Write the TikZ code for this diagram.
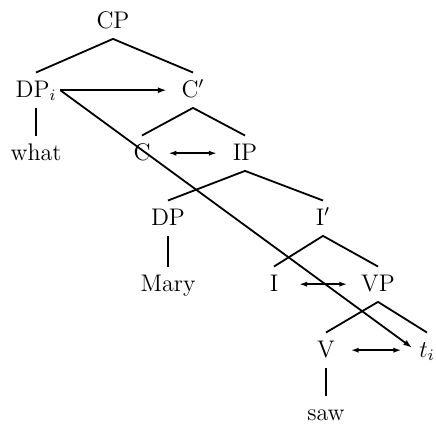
\documentclass[tikz,border=0pt]{standalone}
\usetikzlibrary{arrows.meta}
\begin{document}
\begin{tikzpicture}[x=.5pt,y=-.5pt,line width=.9pt,
    cat/.style={font=\large,anchor=base,text height=8.3pt,text depth=1.5pt,
      inner xsep=1.5pt,inner ysep=3.5pt},
    mv/.style={-{Latex[length=4.5pt,width=3pt]}},
    link/.style={{Latex[length=4pt,width=2.6pt]}-{Latex[length=4pt,width=2.6pt]},
      shorten <=7pt,shorten >=6pt}]
   \useasboundingbox (0,0) rectangle (436,425);

   % the tree
   \node[cat] (cp)   at (113,28)  {CP};
   \node[cat] (dpi)  at (36,97)   {DP$_i$};
   \node[cat] (cbar) at (193,97)  {C$'$};
   \node[cat] (what) at (36,160)  {what};
   \node[cat] (c)    at (142,160) {C};
   \node[cat] (ip)   at (245,160) {IP};
   \node[cat] (dp)   at (168,225) {DP};
   \node[cat] (ibar) at (323,225) {I$'$};
   \node[cat] (mary) at (168,291) {Mary};
   \node[cat] (i)    at (274,291) {I};
   \node[cat] (vp)   at (378,291) {VP};
   \node[cat] (v)    at (326,357) {V};
   \node[cat] (ti)   at (427,357) {$t_i$};
   \node[cat] (saw)  at (326,420) {saw};

   \draw (dpi.north) -- (cp.south) -- (cbar.north);
   \draw (c.north) -- (cbar.south) -- (ip.north);
   \draw (dp.north) -- (ip.south) -- (ibar.north);
   \draw (i.north) -- (ibar.south) -- (vp.north);
   \draw (v.north) -- (vp.south) -- (ti.north);

   \draw (dpi) -- (what);
   \draw (dp) -- (mary);
   \draw (v) -- (saw);

   % movement and links
   \draw[mv,shorten >=5.5pt] (dpi.east) -- (cbar.west);
   \draw[mv,shorten >=2pt] (dpi.east) -- (ti.west);
   \draw[link] (c.east) -- (ip.west);
   \draw[link,shorten <=8.5pt,shorten >=5pt] (i.east) -- (vp.west);
   \draw[link,shorten <=6pt,shorten >=7pt] (v.east) -- (ti.west);
\end{tikzpicture}
\end{document}
